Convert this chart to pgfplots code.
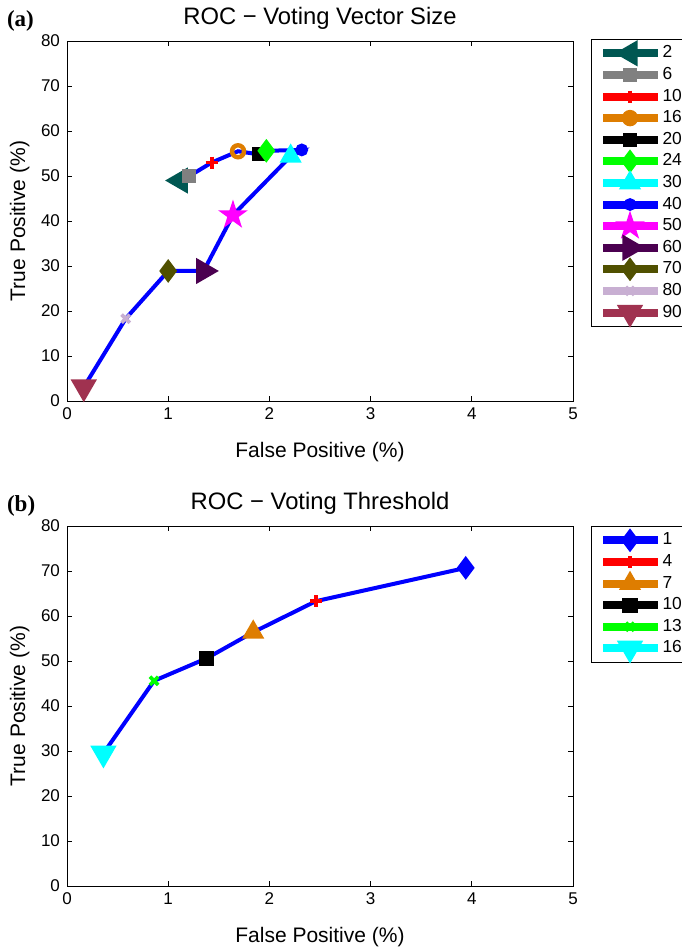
\documentclass[border=0pt]{standalone}
\usepackage{pgfplots}
\pgfplotsset{compat=1.18}
\usepackage{fontspec}
\setmainfont{Liberation Sans}
\newfontfamily\timesbf{Liberation Serif}
\usetikzlibrary{plotmarks}

\definecolor{cteal}{RGB}{0,87,82}
\definecolor{cgray}{RGB}{128,128,128}
\definecolor{cred}{RGB}{255,0,0}
\definecolor{cblue}{RGB}{0,0,255}
\definecolor{ccyan}{RGB}{0,255,255}
\definecolor{cmagenta}{RGB}{255,0,255}
\definecolor{corange}{RGB}{222,125,0}
\definecolor{cgreen}{RGB}{0,255,0}
\definecolor{cpurple}{RGB}{75,0,80}
\definecolor{colive}{RGB}{80,80,0}
\definecolor{clilac}{RGB}{200,175,210}
\definecolor{cmaroon}{RGB}{160,50,80}

\pgfdeclareplotmark{pentagram}{%
  \pgfpathmoveto{\pgfpointpolar{90}{\pgfplotmarksize}}%
  \pgfpathlineto{\pgfpointpolar{126}{0.382\pgfplotmarksize}}%
  \pgfpathlineto{\pgfpointpolar{162}{\pgfplotmarksize}}%
  \pgfpathlineto{\pgfpointpolar{198}{0.382\pgfplotmarksize}}%
  \pgfpathlineto{\pgfpointpolar{234}{\pgfplotmarksize}}%
  \pgfpathlineto{\pgfpointpolar{270}{0.382\pgfplotmarksize}}%
  \pgfpathlineto{\pgfpointpolar{306}{\pgfplotmarksize}}%
  \pgfpathlineto{\pgfpointpolar{342}{0.382\pgfplotmarksize}}%
  \pgfpathlineto{\pgfpointpolar{18}{\pgfplotmarksize}}%
  \pgfpathlineto{\pgfpointpolar{54}{0.382\pgfplotmarksize}}%
  \pgfpathclose
  \pgfusepathqfillstroke}

\pgfplotsset{
  roc/.style={
    scale only axis, width=253pt, height=180pt,
    xmin=0, xmax=5, ymin=0, ymax=80,
    xtick={0,1,2,3,4,5}, ytick={0,10,...,80},
    tick align=inside, xtick pos=both, ytick pos=both,
    major tick length=2.5pt,
    tick style={black, line width=0.4pt},
    axis line style={black, line width=0.5pt},
    tick label style={font=\fontsize{8.5}{10}\selectfont},
    /pgf/number format/assume math mode=true,
    xlabel={False Positive (\%)},
    ylabel={True Positive (\%)},
    xlabel style={at={(axis description cs:0.5,-0.1556)}, anchor=base, font=\fontsize{10.5}{12}\selectfont},
    ylabel style={at={(axis description cs:-0.083,0.5)}, anchor=base, rotate=0, font=\fontsize{10.5}{12}\selectfont},
    title style={at={(axis description cs:0.5,1)}, anchor=base, yshift=2.5pt, font=\fontsize{11.9}{14}\selectfont},
    clip=false,
    legend cell align=left,
    legend style={
      font=\fontsize{8.7}{10}\selectfont,
      draw=black, line width=0.5pt,
      inner xsep=5.5pt, inner ysep=1.5pt,
      row sep=0pt, column sep=2.5pt,
      nodes={inner sep=0pt, minimum height=10.8pt, text width=16pt, align=left},
    },
    legend image code/.code={%
      \begin{pgfinterruptboundingbox}
      \draw[mark repeat=2,mark phase=2,#1] plot coordinates {(0pt,0pt)(12.75pt,0pt)(25.5pt,0pt)};
      \end{pgfinterruptboundingbox}
      \path (0pt,-1pt) rectangle (25.5pt,1pt);
    },
  },
  mk/.style 2 args={#1, line width=2pt, mark=#2, mark options={solid, fill=#1, draw=#1, line width=0.8pt}},
}

\begin{document}
\begin{tikzpicture}
% ---------------- (a) ----------------
\begin{axis}[roc, at={(33.5pt,-200.5pt)}, anchor=south west,
  title={ROC − Voting Vector Size},
  legend style={at={(1.0356,1.0056)}, anchor=north west}]
\addplot[cblue, line width=2pt, forget plot] coordinates {
 (1.12,49.0) (1.21,50.0) (1.43,53.0) (1.69,55.5) (1.90,54.8) (1.97,55.6)
 (2.32,55.8) (2.21,54.4) (1.64,41.3) (1.35,28.9) (1.00,28.9) (0.58,18.3) (0.166,3.1)};
\addplot[mk={cteal}{triangle*}, mark size=5.6pt, mark options={rotate=90}] coordinates {(1.12,49.0)};
\addlegendentry{2}
\addplot[mk={cgray}{square*}, mark size=3.1pt] coordinates {(1.21,50.0)};
\addlegendentry{6}
\addplot[cred, line width=2pt, mark=+, mark size=3pt, mark options={solid, line width=1.8pt}] coordinates {(1.43,53.0)};
\addlegendentry{10}
\addplot[corange, line width=2pt, mark=o, mark size=3pt, mark options={solid, line width=2.2pt}] coordinates {(1.69,55.5)};
\addlegendentry{16}
\addplot[mk={black}{square*}, mark size=3.1pt] coordinates {(1.90,54.8)};
\addlegendentry{20}
\addplot[mk={cgreen}{diamond*}, mark size=5.3pt] coordinates {(1.97,55.6)};
\addlegendentry{24}
\addplot[mk={ccyan}{triangle*}, mark size=5.6pt] coordinates {(2.21,54.4)};
\addlegendentry{30}
\addplot[mk={cblue}{*}, mark size=2.8pt] coordinates {(2.32,55.8)};
\addlegendentry{40}
\addplot[mk={cmagenta}{pentagram}, mark size=6.5pt] coordinates {(1.64,41.3)};
\addlegendentry{50}
\addplot[mk={cpurple}{triangle*}, mark size=5.6pt, mark options={rotate=-90}] coordinates {(1.35,28.9)};
\addlegendentry{60}
\addplot[mk={colive}{diamond*}, mark size=5.3pt] coordinates {(1.00,28.9)};
\addlegendentry{70}
\addplot[clilac, line width=2pt, mark=x, mark size=2.9pt, mark options={solid, line width=1.8pt}] coordinates {(0.58,18.3)};
\addlegendentry{80}
\addplot[mk={cmaroon}{triangle*}, mark size=5.6pt, mark options={rotate=180}] coordinates {(0.166,3.1)};
\addlegendentry{90}
\node[anchor=base west, font=\timesbf\bfseries\fontsize{11.5}{13}\selectfont] at (axis description cs:-0.1324,1.04) {(a)};
\end{axis}
% ---------------- (b) ----------------
\begin{axis}[roc, at={(33.5pt,-443pt)}, anchor=south west,
  title={ROC − Voting Threshold},
  legend style={at={(1.0356,1.0)}, anchor=north west}]
\addplot[cblue, line width=2pt, forget plot] coordinates {
 (3.94,70.7) (2.46,63.3) (1.84,56.4) (1.38,50.6) (0.86,45.6) (0.36,29.5)};
\addplot[mk={cblue}{diamond*}, mark size=5.3pt] coordinates {(3.94,70.7)};
\addlegendentry{1}
\addplot[cred, line width=2pt, mark=+, mark size=3pt, mark options={solid, line width=1.8pt}] coordinates {(2.46,63.3)};
\addlegendentry{4}
\addplot[mk={corange}{triangle*}, mark size=5.6pt] coordinates {(1.84,56.4)};
\addlegendentry{7}
\addplot[mk={black}{square*}, mark size=3.4pt] coordinates {(1.38,50.6)};
\addlegendentry{10}
\addplot[cgreen, line width=2pt, mark=x, mark size=2.9pt, mark options={solid, line width=1.8pt}] coordinates {(0.86,45.6)};
\addlegendentry{13}
\addplot[mk={ccyan}{triangle*}, mark size=5.6pt, mark options={rotate=180}] coordinates {(0.36,29.5)};
\addlegendentry{16}
\node[anchor=base west, font=\timesbf\bfseries\fontsize{11.5}{13}\selectfont] at (axis description cs:-0.1324,1.04) {(b)};
\end{axis}
\pgfresetboundingbox
\path (0pt,0pt) rectangle (340.5pt,-474pt);
\end{tikzpicture}
\end{document}
